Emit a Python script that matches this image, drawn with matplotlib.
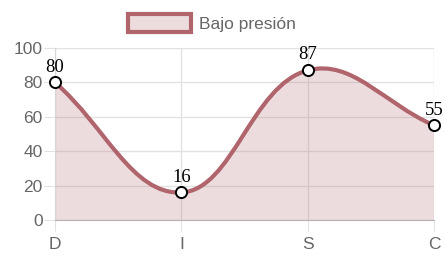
import numpy as np
import matplotlib
matplotlib.use("Agg")
import matplotlib.pyplot as plt
from matplotlib.path import Path
from matplotlib.patches import PathPatch, Patch

labels = ['D', 'I', 'S', 'C']
values = [80, 16, 87, 55]
series_name = 'Bajo presión'

line_col = '#b0646c'
fill_col = (0.69, 0.39, 0.42, 0.22)
text_col = '#666666'

fig = plt.figure(figsize=(4.45, 2.61), dpi=100)
ax = fig.add_axes([55/445, 1-220/261, 379/445, 172/261])

x = np.arange(len(labels), dtype=float)
y = np.array(values, dtype=float)

# chart.js style spline (tension 0.4), distances in pixel space
sx, sy = 379/3, 1.72
tension = 0.4
n = len(x)
cp_prev = [None]*n
cp_next = [None]*n
for i in range(n):
    p0 = (x[max(i-1, 0)], y[max(i-1, 0)])
    p1 = (x[i], y[i])
    p2 = (x[min(i+1, n-1)], y[min(i+1, n-1)])
    d01 = np.hypot((p1[0]-p0[0])*sx, (p1[1]-p0[1])*sy)
    d12 = np.hypot((p2[0]-p1[0])*sx, (p2[1]-p1[1])*sy)
    tot = d01 + d12
    s01 = d01/tot if tot else 0
    s12 = d12/tot if tot else 0
    fa, fb = tension*s01, tension*s12
    cp_prev[i] = (p1[0] - fa*(p2[0]-p0[0]), p1[1] - fa*(p2[1]-p0[1]))
    cp_next[i] = (p1[0] + fb*(p2[0]-p0[0]), p1[1] + fb*(p2[1]-p0[1]))

verts = [(x[0], y[0])]
codes = [Path.MOVETO]
for i in range(n-1):
    verts += [cp_next[i], cp_prev[i+1], (x[i+1], y[i+1])]
    codes += [Path.CURVE4]*3

fill_verts = verts + [(x[-1], 0), (x[0], 0), (x[0], y[0])]
fill_codes = codes + [Path.LINETO, Path.LINETO, Path.CLOSEPOLY]
ax.add_patch(PathPatch(Path(fill_verts, fill_codes), facecolor=fill_col, edgecolor='none', zorder=1))
ax.add_patch(PathPatch(Path(verts, codes), facecolor='none', edgecolor=line_col, lw=3, zorder=2, capstyle='round'))

ax.plot(x, y, 'o', ms=8, mfc='white', mec='black', mew=1.4, zorder=4, clip_on=False)
for xi, yi in zip(x, y):
    ax.text(xi, yi + 4.0, str(int(yi)), ha='center', va='bottom', fontsize=13.5,
            family='Liberation Serif', color='black', zorder=5)

ax.set_xlim(0, n-1)
ax.set_ylim(0, 100)
ax.set_xticks(x)
ax.set_xticklabels(labels)
ax.set_yticks(np.arange(0, 101, 20))
ax.grid(True, color='#e2e2e2', lw=1, zorder=0)
ax.set_axisbelow(True)
for s in ['top', 'right']:
    ax.spines[s].set_visible(False)
ax.spines['left'].set_color('#d6d6d6')
ax.spines['bottom'].set_color('#b4b4b4')
ax.tick_params(axis='both', colors='#e2e2e2', length=8, labelcolor=text_col, labelsize=12.5)
ax.tick_params(axis='y', pad=1)
ax.tick_params(axis='x', pad=4)
for t in ax.get_xticklabels() + ax.get_yticklabels():
    t.set_family('Liberation Sans')

handle = Patch(facecolor=(0.69, 0.39, 0.42, 0.22), edgecolor=line_col, lw=3)
fig.legend([handle], [series_name], loc='center', bbox_to_anchor=(0.476, 1-23/261),
           frameon=False, handlelength=3.65, handleheight=1.3, handletextpad=0.45,
           prop={'family': 'Liberation Sans', 'size': 12.5}, labelcolor=text_col)

fig.savefig('out.png', dpi=100)
